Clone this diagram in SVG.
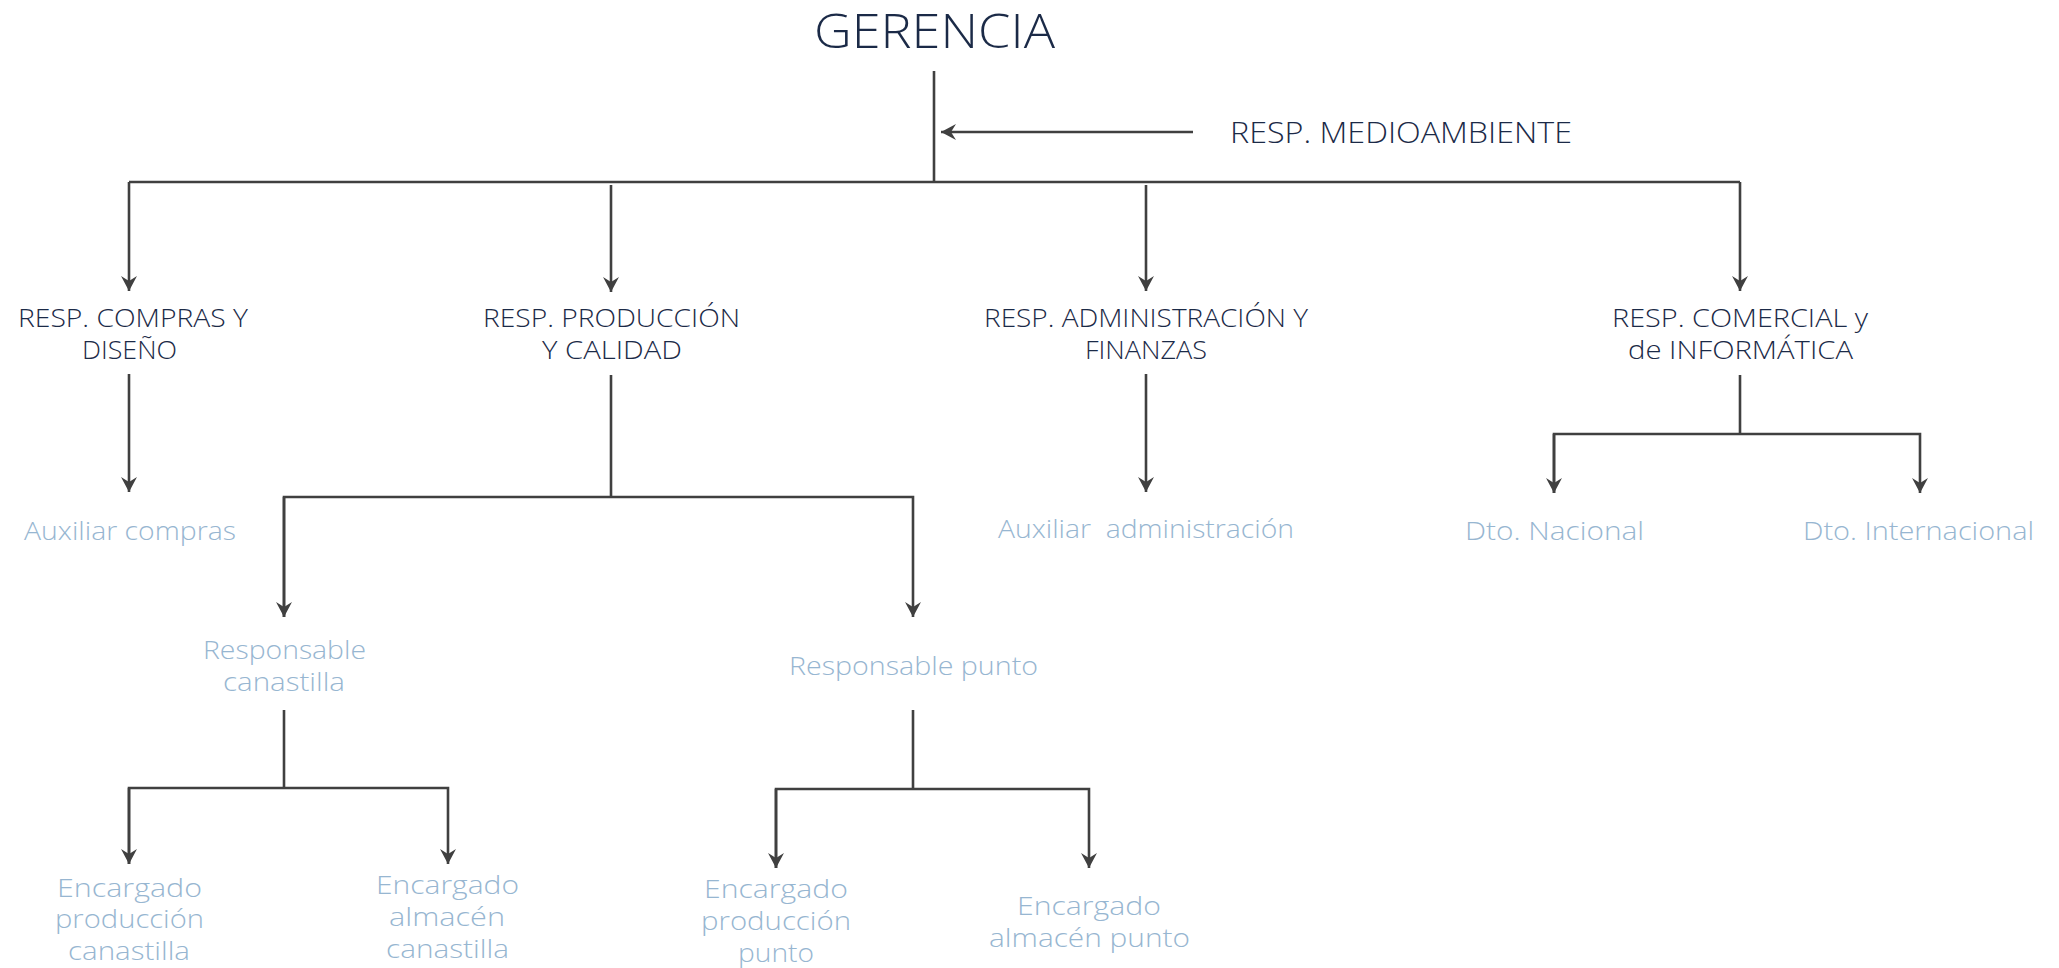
<svg xmlns="http://www.w3.org/2000/svg" width="2059" height="968" viewBox="0 0 2059 968">
<style>
text{font-family:"Open Sans","Liberation Sans",sans-serif;text-anchor:middle;font-weight:300}
.top{fill:#1b2a47;font-size:47px}
.dk{fill:#1b2a47;font-size:25px}
.lt{fill:#97b6d1;font-size:25px}
.c{fill:none;stroke:#404040;stroke-width:2.6}
</style>
<defs>
<marker id="ah" markerUnits="userSpaceOnUse" markerWidth="20" markerHeight="20" viewBox="-16 -10 20 20" refX="0" refY="0" orient="auto">
<path d="M0,0 L-15,-8 L-10,0 L-15,8 Z" fill="#404040"/>
</marker>
</defs>
<rect width="2059" height="968" fill="#ffffff"/>
<g id="connectors">
<path class="c" d="M934,71 V182"/>
<path class="c" d="M129,182 H1740"/>
<path class="c" d="M1193,132 H941" marker-end="url(#ah)"/>
<path class="c" d="M129,182 V291" marker-end="url(#ah)"/>
<path class="c" d="M611,185 V292" marker-end="url(#ah)"/>
<path class="c" d="M1146,185 V291" marker-end="url(#ah)"/>
<path class="c" d="M1740,182 V291" marker-end="url(#ah)"/>
<path class="c" d="M129,374 V492" marker-end="url(#ah)"/>
<path class="c" d="M1146,374 V492" marker-end="url(#ah)"/>
<path class="c" d="M611,375 V497"/>
<path class="c" d="M284,617 V497 H913 V617" marker-end="url(#ah)"/>
<path class="c" d="M284,497 V617" marker-end="url(#ah)"/>
<path class="c" d="M1740,375 V434"/>
<path class="c" d="M1554,493 V434 H1920 V493" marker-end="url(#ah)"/>
<path class="c" d="M1554,434 V493" marker-end="url(#ah)"/>
<path class="c" d="M284,710 V788"/>
<path class="c" d="M129,864 V788 H448 V864" marker-end="url(#ah)"/>
<path class="c" d="M129,788 V864" marker-end="url(#ah)"/>
<path class="c" d="M913,710 V789"/>
<path class="c" d="M776,868 V789 H1089 V868" marker-end="url(#ah)"/>
<path class="c" d="M776,789 V868" marker-end="url(#ah)"/>
</g>
<g id="gerencia"><text class="top" x="934.5" y="48" textLength="241" lengthAdjust="spacingAndGlyphs">GERENCIA</text></g>
<g id="medioambiente"><text class="dk" style="font-size:30px" x="1401" y="143" textLength="342" lengthAdjust="spacingAndGlyphs">RESP. MEDIOAMBIENTE</text></g>
<g id="compras">
<text class="dk" x="133" y="327" textLength="230" lengthAdjust="spacingAndGlyphs">RESP. COMPRAS Y</text>
<text class="dk" x="129.5" y="359" textLength="95" lengthAdjust="spacingAndGlyphs">DISEÑO</text>
</g>
<g id="produccion">
<text class="dk" x="611.5" y="327" textLength="257" lengthAdjust="spacingAndGlyphs">RESP. PRODUCCIÓN</text>
<text class="dk" x="612" y="359" textLength="140" lengthAdjust="spacingAndGlyphs">Y CALIDAD</text>
</g>
<g id="administracion">
<text class="dk" x="1146" y="327" textLength="324" lengthAdjust="spacingAndGlyphs">RESP. ADMINISTRACIÓN Y</text>
<text class="dk" x="1146" y="359" textLength="122" lengthAdjust="spacingAndGlyphs">FINANZAS</text>
</g>
<g id="comercial">
<text class="dk" x="1740" y="327" textLength="256" lengthAdjust="spacingAndGlyphs">RESP. COMERCIAL y</text>
<text class="dk" x="1740.5" y="359" textLength="225" lengthAdjust="spacingAndGlyphs">de INFORMÁTICA</text>
</g>
<g id="aux-compras"><text class="lt" x="130" y="540" textLength="212" lengthAdjust="spacingAndGlyphs">Auxiliar compras</text></g>
<g id="aux-admin"><text class="lt" x="1146" y="538" textLength="296" lengthAdjust="spacingAndGlyphs" xml:space="preserve">Auxiliar  administración</text></g>
<g id="dto-nacional"><text class="lt" x="1554.5" y="540" textLength="179" lengthAdjust="spacingAndGlyphs">Dto. Nacional</text></g>
<g id="dto-internacional"><text class="lt" x="1918.5" y="540" textLength="231" lengthAdjust="spacingAndGlyphs">Dto. Internacional</text></g>
<g id="resp-canastilla">
<text class="lt" x="284.5" y="659" textLength="163" lengthAdjust="spacingAndGlyphs">Responsable</text>
<text class="lt" x="284" y="691" textLength="122" lengthAdjust="spacingAndGlyphs">canastilla</text>
</g>
<g id="resp-punto"><text class="lt" x="913.5" y="675" textLength="249" lengthAdjust="spacingAndGlyphs">Responsable punto</text></g>
<g id="enc-prod-canastilla">
<text class="lt" x="129.5" y="897" textLength="145" lengthAdjust="spacingAndGlyphs">Encargado</text>
<text class="lt" x="129.5" y="928" textLength="149" lengthAdjust="spacingAndGlyphs">producción</text>
<text class="lt" x="129" y="960" textLength="122" lengthAdjust="spacingAndGlyphs">canastilla</text>
</g>
<g id="enc-alm-canastilla">
<text class="lt" x="447.5" y="894" textLength="143" lengthAdjust="spacingAndGlyphs">Encargado</text>
<text class="lt" x="447" y="926" textLength="116" lengthAdjust="spacingAndGlyphs">almacén</text>
<text class="lt" x="447.5" y="958" textLength="123" lengthAdjust="spacingAndGlyphs">canastilla</text>
</g>
<g id="enc-prod-punto">
<text class="lt" x="776" y="898" textLength="144" lengthAdjust="spacingAndGlyphs">Encargado</text>
<text class="lt" x="776" y="930" textLength="150" lengthAdjust="spacingAndGlyphs">producción</text>
<text class="lt" x="776" y="962" textLength="76" lengthAdjust="spacingAndGlyphs">punto</text>
</g>
<g id="enc-alm-punto">
<text class="lt" x="1089" y="915" textLength="144" lengthAdjust="spacingAndGlyphs">Encargado</text>
<text class="lt" x="1089.5" y="947" textLength="201" lengthAdjust="spacingAndGlyphs">almacén punto</text>
</g>
</svg>
